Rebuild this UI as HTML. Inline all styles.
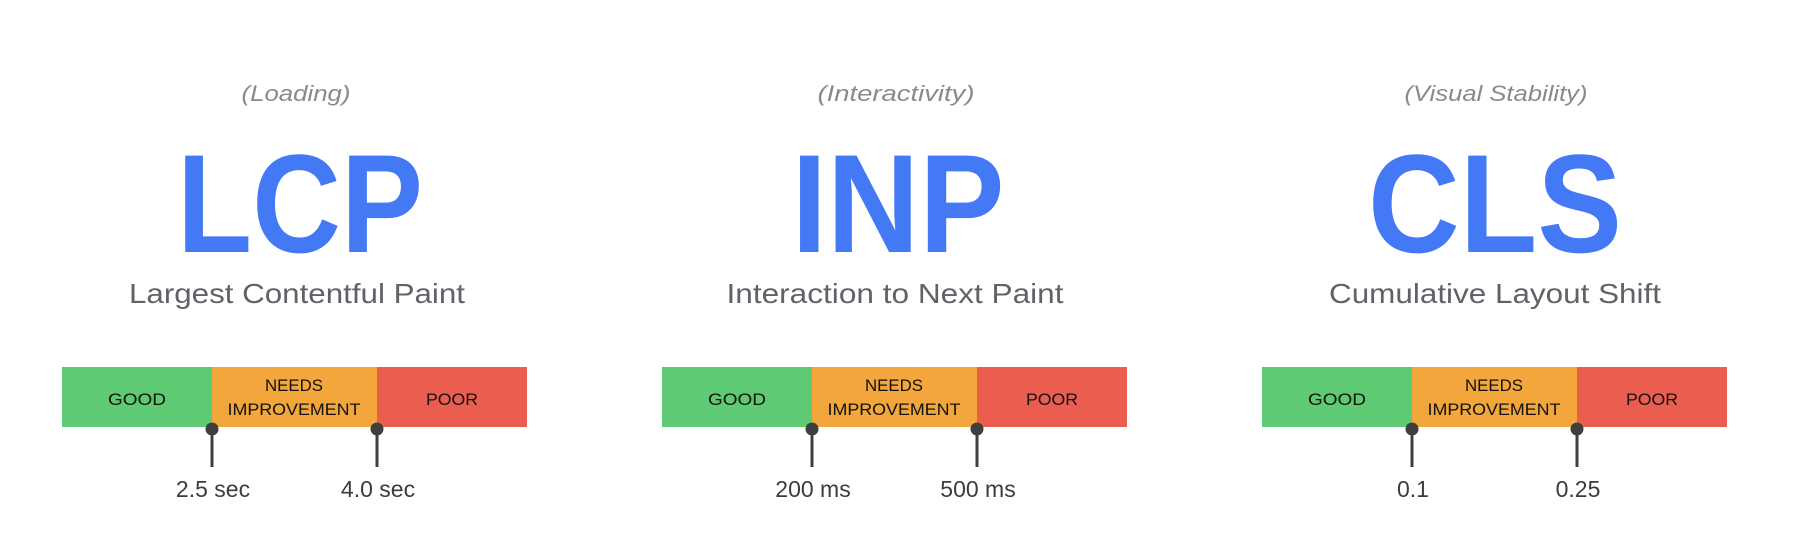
<!DOCTYPE html>
<html><head><meta charset="utf-8"><style>
html,body{margin:0;padding:0;background:#fff;}
svg{display:block}
</style></head><body>
<svg width="1810" height="556" viewBox="0 0 1810 556" xmlns="http://www.w3.org/2000/svg">
<g font-family="Liberation Sans, sans-serif">
<!-- Panel 1 -->
<text x="296" y="101" font-size="22" font-style="italic" fill="#8a8a8a" text-anchor="middle" textLength="109" lengthAdjust="spacingAndGlyphs">(Loading)</text>
<text x="300" y="252" font-size="140" font-weight="bold" fill="#4479f5" text-anchor="middle" textLength="246" lengthAdjust="spacingAndGlyphs">LCP</text>
<text x="297" y="303" font-size="28" fill="#5f6368" text-anchor="middle" textLength="336" lengthAdjust="spacingAndGlyphs">Largest Contentful Paint</text>

<text x="896" y="101" font-size="22" font-style="italic" fill="#8a8a8a" text-anchor="middle" textLength="157" lengthAdjust="spacingAndGlyphs">(Interactivity)</text>
<text x="898" y="252" font-size="140" font-weight="bold" fill="#4479f5" text-anchor="middle" textLength="213" lengthAdjust="spacingAndGlyphs">INP</text>
<text x="895" y="303" font-size="28" fill="#5f6368" text-anchor="middle" textLength="337" lengthAdjust="spacingAndGlyphs">Interaction to Next Paint</text>

<text x="1496" y="101" font-size="22" font-style="italic" fill="#8a8a8a" text-anchor="middle" textLength="183" lengthAdjust="spacingAndGlyphs">(Visual Stability)</text>
<text x="1495" y="252" font-size="140" font-weight="bold" fill="#4479f5" text-anchor="middle" textLength="254" lengthAdjust="spacingAndGlyphs">CLS</text>
<text x="1495" y="303" font-size="28" fill="#5f6368" text-anchor="middle" textLength="332" lengthAdjust="spacingAndGlyphs">Cumulative Layout Shift</text>
</g>

<g id="b1" font-family="Liberation Sans, sans-serif">
<rect x="62" y="367" width="150" height="60" fill="#5ecb74"/>
<rect x="212" y="367" width="165" height="60" fill="#f2a63b"/>
<rect x="377" y="367" width="150" height="60" fill="#eb5d4e"/>
<text x="137" y="405" font-size="17" fill="#111" text-anchor="middle" textLength="58" lengthAdjust="spacingAndGlyphs">GOOD</text>
<text x="294" y="391" font-size="17" fill="#111" text-anchor="middle" textLength="58" lengthAdjust="spacingAndGlyphs">NEEDS</text>
<text x="294" y="415" font-size="17" fill="#111" text-anchor="middle" textLength="133" lengthAdjust="spacingAndGlyphs">IMPROVEMENT</text>
<text x="452" y="405" font-size="17" fill="#111" text-anchor="middle" textLength="52" lengthAdjust="spacingAndGlyphs">POOR</text>
<line x1="212" y1="428" x2="212" y2="467" stroke="#3f3f3f" stroke-width="3"/>
<circle cx="212" cy="429" r="6.5" fill="#3f3f3f"/>
<line x1="377" y1="428" x2="377" y2="467" stroke="#3f3f3f" stroke-width="3"/>
<circle cx="377" cy="429" r="6.5" fill="#3f3f3f"/>
</g>
<g font-family="Liberation Sans, sans-serif" font-size="23" fill="#3c3c3c" text-anchor="middle">
<text x="213" y="497">2.5 sec</text>
<text x="378" y="497">4.0 sec</text>
<text x="813" y="497">200 ms</text>
<text x="978" y="497">500 ms</text>
<text x="1413" y="497">0.1</text>
<text x="1578" y="497">0.25</text>
</g>
<use href="#b1" x="600"/>
<use href="#b1" x="1200"/>
</svg>
</body></html>
